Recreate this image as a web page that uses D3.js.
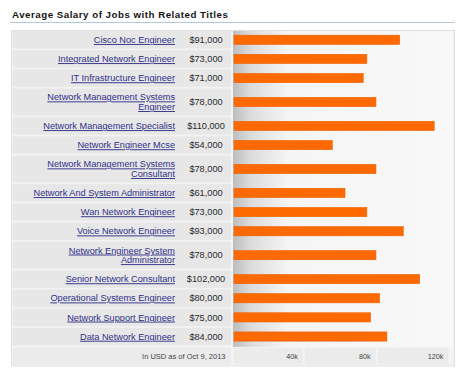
<!DOCTYPE html>
<html>
<head>
<meta charset="utf-8">
<script src="https://cdn.jsdelivr.net/npm/d3@7"></script>
<style>
  html, body { margin: 0; padding: 0; background: #ffffff; }
  svg { display: block; }
</style>
</head>
<body>
<svg id="chart" width="467" height="379"></svg>
<script>
const titleText = "Average Salary of Jobs with Related Titles";
const jobTitles = [
  "Cisco Noc Engineer",
  "Integrated Network Engineer",
  "IT Infrastructure Engineer",
  "Network Management Systems Engineer",
  "Network Management Specialist",
  "Network Engineer Mcse",
  "Network Management Systems Consultant",
  "Network And System Administrator",
  "Wan Network Engineer",
  "Voice Network Engineer",
  "Network Engineer System Administrator",
  "Senior Network Consultant",
  "Operational Systems Engineer",
  "Network Support Engineer",
  "Data Network Engineer"
];
const salaries = [91000, 73000, 71000, 78000, 110000, 54000, 78000, 61000, 73000, 93000, 78000, 102000, 80000, 75000, 84000];
const tickValues = [40000, 80000, 120000];
const tickLabels = ["40k", "80k", "120k"];
const footnote = "In USD as of Oct 9, 2013";

const svg = d3.select("#chart");
const fmt = v => "$" + d3.format(",")(v);

// gradient for bar area
const defs = svg.append("defs");
const grad = defs.append("linearGradient").attr("id", "barbg").attr("x1", "0%").attr("x2", "100%").attr("y1", "0%").attr("y2", "0%");
grad.append("stop").attr("offset", "0%").attr("stop-color", "#bdbdbd");
grad.append("stop").attr("offset", "8%").attr("stop-color", "#dcdcdc");
grad.append("stop").attr("offset", "25%").attr("stop-color", "#f5f5f5");
grad.append("stop").attr("offset", "100%").attr("stop-color", "#f8f8f8");

// title
const title = svg.append("text")
  .attr("x", 12).attr("y", 18)
  .attr("font-family", "Liberation Sans, Arial, sans-serif")
  .attr("font-weight", "bold")
  .attr("font-size", 10)
  .attr("letter-spacing", 0.5)
  .attr("fill", "#141414")
  .text(titleText);
{
  const w = title.node().getComputedTextLength();
  const fs = 10 * 216 / w;
  title.attr("font-size", fs);
}
svg.append("line").attr("x1", 10).attr("x2", 455).attr("y1", 22.5).attr("y2", 22.5)
  .attr("stroke", "#b4c8dc").attr("stroke-width", 1);

// table frame
const tableTop = 30, tableLeft = 11.5, tableRight = 454.5;
const x = d3.scaleLinear().domain([0, 120000]).range([234, 452.4]);

// wrap labels
const labelFont = "Liberation Sans, Arial, sans-serif";
const labelSize = 9.2;
const maxLabelW = 150;
const measure = svg.append("text").attr("font-family", labelFont).attr("font-size", labelSize).attr("visibility", "hidden");
function wrap(str) {
  const words = str.split(" ");
  const lines = [];
  let cur = "";
  words.forEach(wd => {
    const test = cur ? cur + " " + wd : wd;
    measure.text(test);
    if (measure.node().getComputedTextLength() > maxLabelW && cur) {
      lines.push(cur); cur = wd;
    } else cur = test;
  });
  lines.push(cur);
  return lines;
}
const rows = jobTitles.map((t, i) => ({ title: t, value: salaries[i], lines: wrap(t) }));
measure.remove();

const singleH = 19.15, doubleH = 28.7;
let yCur = 31;
rows.forEach(r => {
  r.h = r.lines.length > 1 ? doubleH : singleH;
  r.y = yCur;
  yCur += r.h;
});
const dataBottom = yCur;
const footTop = dataBottom + 1, footH = 16.5;

svg.append("rect")
  .attr("x", tableLeft).attr("y", tableTop + 0.5)
  .attr("width", tableRight - tableLeft).attr("height", footTop + footH + 1 - tableTop)
  .attr("fill", "#f3f3f3").attr("stroke", "#dedede");

// bar area
svg.append("rect")
  .attr("x", 233).attr("y", 31)
  .attr("width", 453.5 - 233).attr("height", dataBottom - 31)
  .attr("fill", "url(#barbg)");

const rowG = svg.append("g").selectAll("g").data(rows).join("g")
  .attr("transform", d => `translate(0,${d.y})`);

rowG.append("rect")
  .attr("x", 13).attr("y", 0)
  .attr("width", 231 - 13).attr("height", d => d.h - 1.6)
  .attr("fill", "#e7e7e7");

rowG.each(function(d) {
  const g = d3.select(this);
  const n = d.lines.length;
  const cy = (d.h - 1.6) / 2;
  const lh = 9.6;
  const t = g.append("text")
    .attr("font-family", labelFont).attr("font-size", labelSize)
    .attr("fill", "#2f2f88").attr("text-anchor", "end")
    .attr("text-decoration", "underline");
  d.lines.forEach((ln, k) => {
    t.append("tspan").attr("x", 175)
      .attr("y", cy + (k - (n - 1) / 2) * lh + 3.2)
      .text(ln);
  });
  g.append("text")
    .attr("x", 206).attr("y", cy + 3.2)
    .attr("font-family", labelFont).attr("font-size", labelSize)
    .attr("fill", "#2a2a2a").attr("text-anchor", "middle")
    .text(fmt(d.value));
  g.append("rect")
    .attr("x", x(0)).attr("y", cy - 4.6)
    .attr("width", x(d.value) - x(0)).attr("height", 9.2)
    .attr("fill", "#ff6a00").attr("stroke", "#ec6000").attr("stroke-width", 0.6);
});

// footer
svg.append("rect").attr("x", 13).attr("y", footTop).attr("width", 231 - 13).attr("height", footH).attr("fill", "#ebebeb");
svg.append("text").attr("x", 225.5).attr("y", footTop + footH / 2 + 2.6)
  .attr("font-family", labelFont).attr("font-size", 7.5).attr("fill", "#444")
  .attr("text-anchor", "end").text(footnote);

const tickData = tickValues.map((v, i) => ({ v, label: tickLabels[i], prev: i === 0 ? 0 : tickValues[i - 1] }));
const tg = svg.append("g").selectAll("g").data(tickData).join("g");
tg.append("rect")
  .attr("x", d => d.prev === 0 ? x(0) : x(d.prev) - 2)
  .attr("y", footTop)
  .attr("width", d => (x(d.v) - 4) - (d.prev === 0 ? x(0) : x(d.prev) - 2))
  .attr("height", footH)
  .attr("fill", "#ebebeb");
tg.append("text")
  .attr("x", d => x(d.v) - 9)
  .attr("y", footTop + footH / 2 + 2.5)
  .attr("font-family", labelFont).attr("font-size", 7.2).attr("fill", "#444")
  .attr("text-anchor", "end").text(d => d.label);
</script>
</body>
</html>
